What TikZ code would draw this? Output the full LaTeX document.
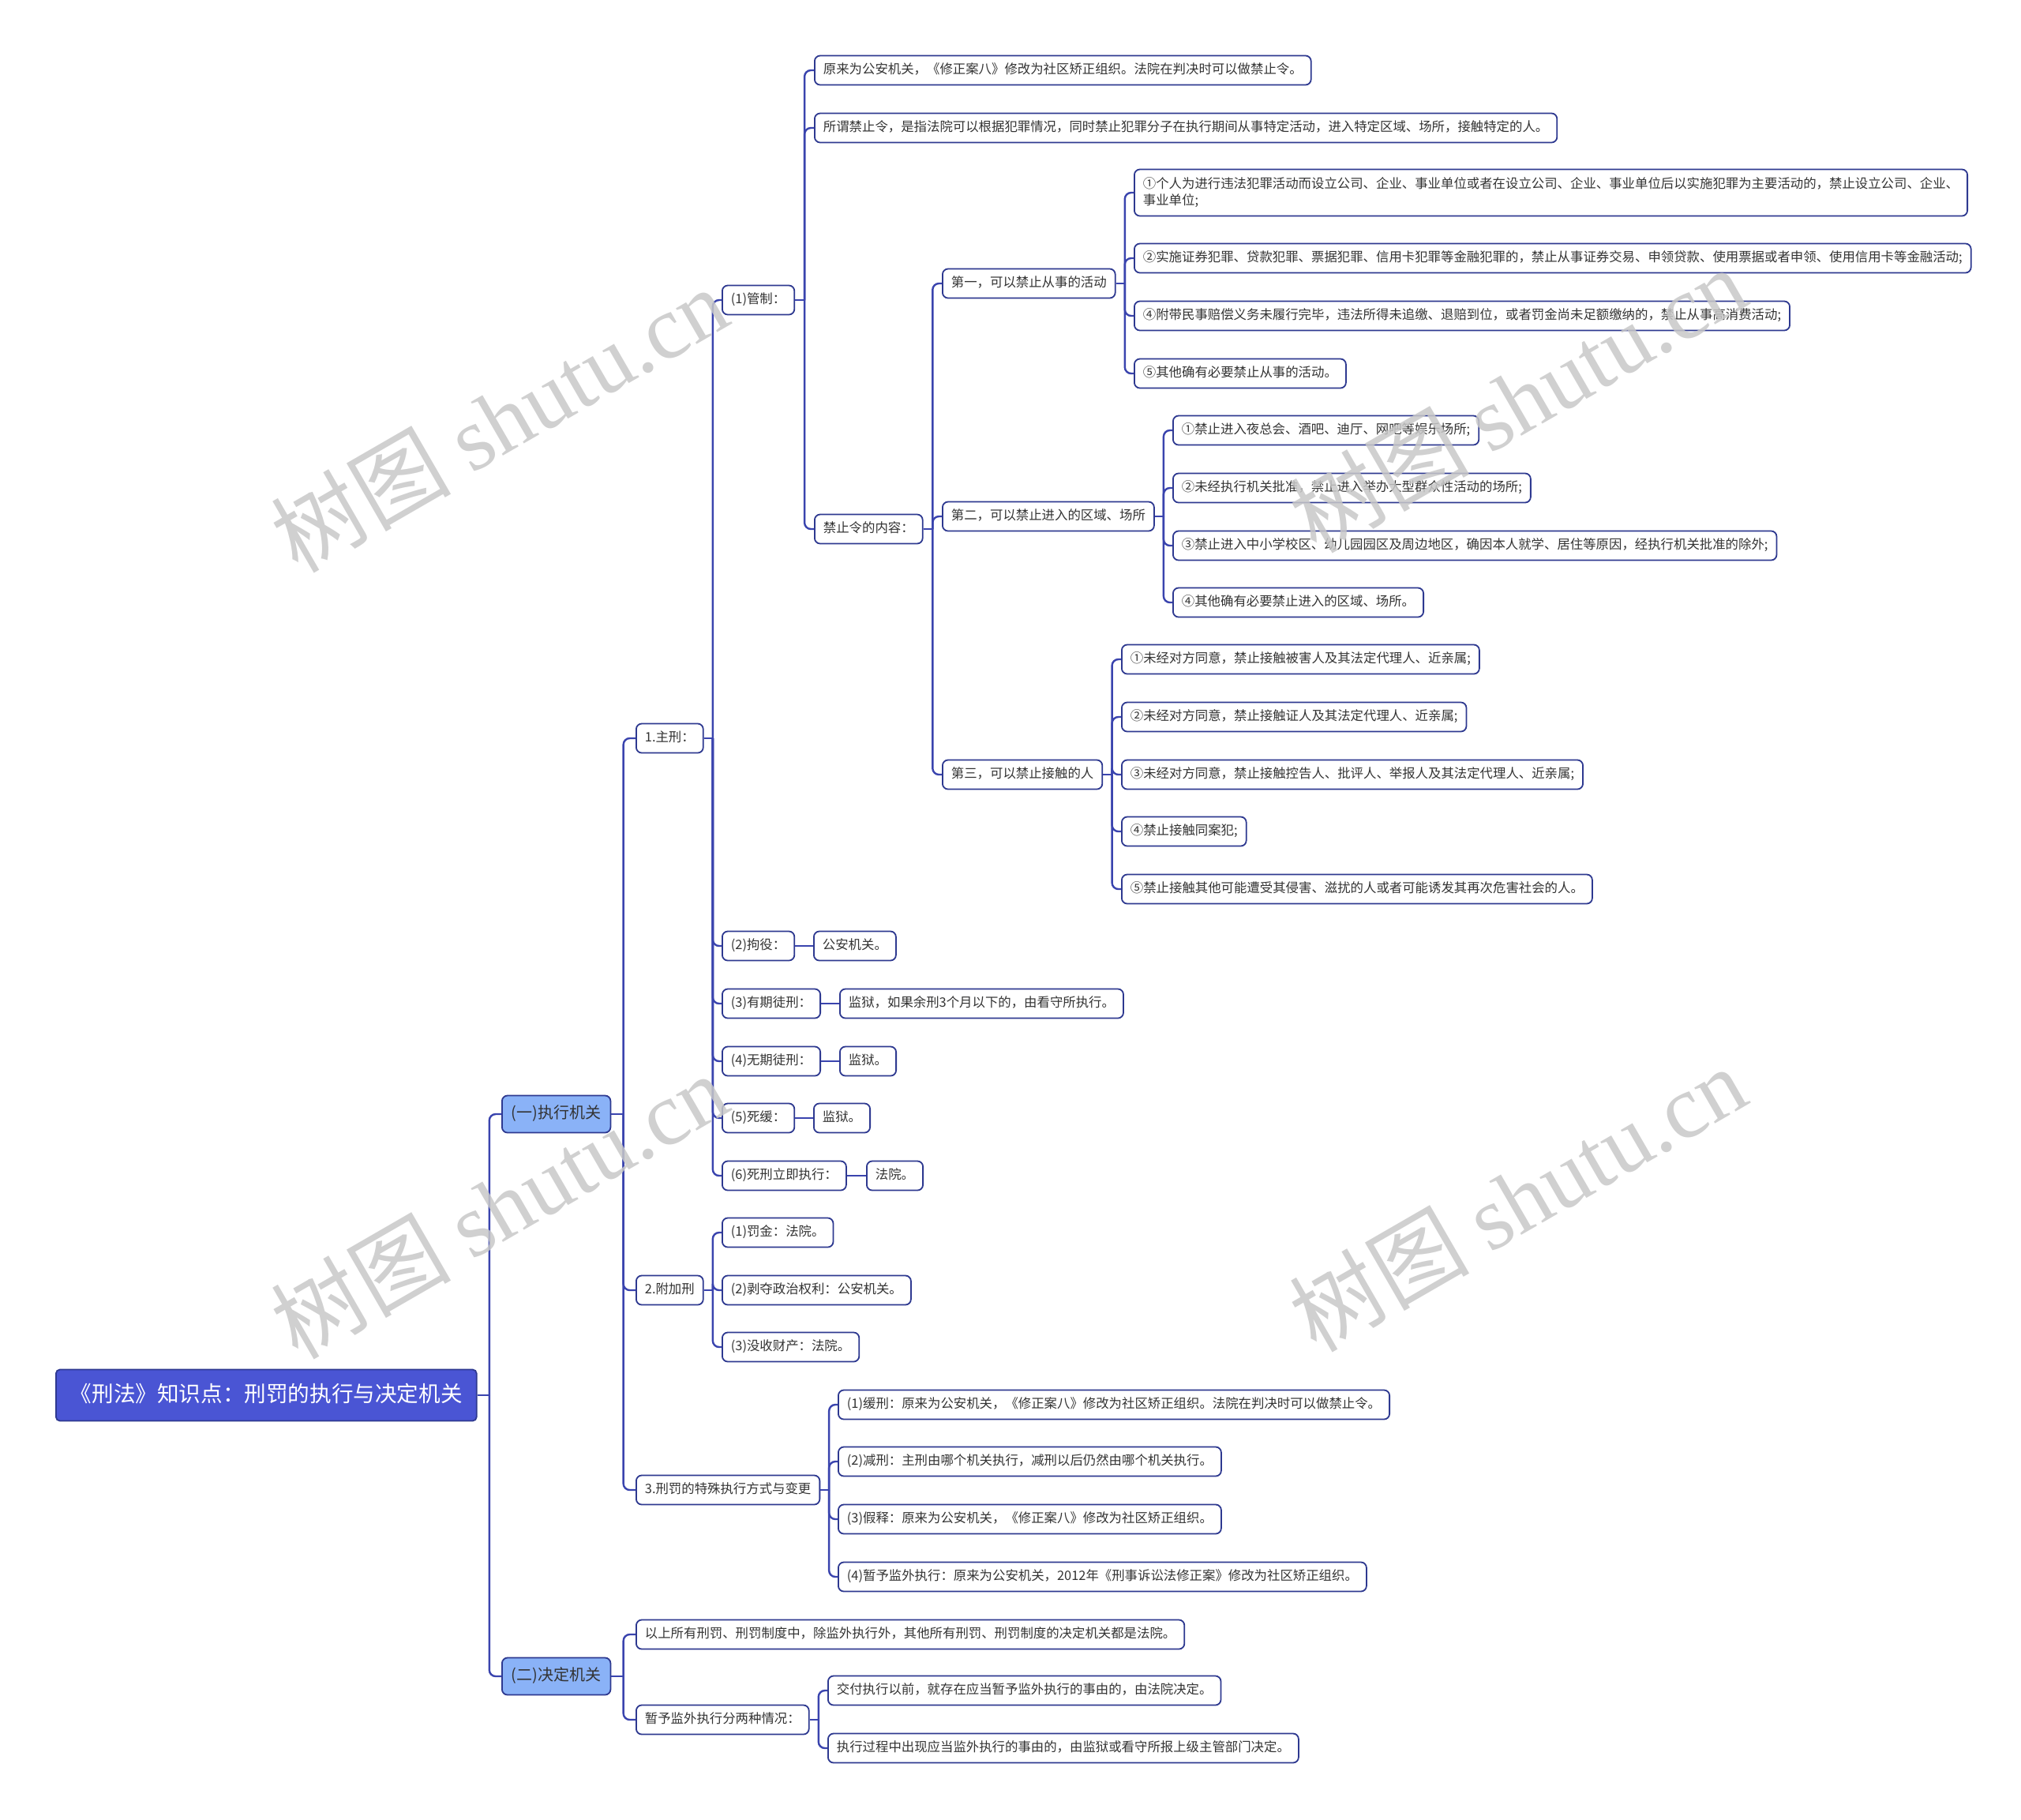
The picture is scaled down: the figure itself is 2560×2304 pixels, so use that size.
\documentclass[tikz,border=0pt]{standalone}
\usepackage{fontspec}
\setmainfont{Noto Sans CJK SC}
\newfontfamily\wmserif{Liberation Serif}
\usetikzlibrary{calc}
\definecolor{textcol}{HTML}{333333}
\definecolor{nodeborder}{HTML}{2E3990}
\definecolor{linkblue}{HTML}{3A44AE}
\definecolor{rootblue}{HTML}{4A55D4}
\definecolor{lightblue}{HTML}{8AB2F7}
\definecolor{wmgray}{HTML}{C8C8C8}
\tikzset{
  box/.style={draw=nodeborder, line width=0.9pt, rounded corners=3.5pt, fill=white,
    font=\fontsize{8.2}{10.5}\selectfont, text=textcol, inner xsep=5.5pt, inner ysep=0pt,
    minimum height=18.5pt, anchor=west, text height=6.6pt, text depth=1.8pt},
  rootbox/.style={box, fill=rootblue, text=white, font=\fontsize{13.8}{16}\selectfont,
    minimum height=32.5pt, inner xsep=9pt, rounded corners=2.5pt, text height=11pt, text depth=3pt},
  lonebox/.style={box, fill=lightblue, font=\fontsize{10}{12}\selectfont,
    minimum height=23.5pt, inner xsep=6pt, text height=8pt, text depth=2.2pt},
  link/.style={draw=linkblue, line width=1.2pt},
  wm/.style={text=wmgray, opacity=0.85, rotate=30, font=\fontsize{57}{57}\selectfont},
}
\newcommand{\linkto}[2]{%
  \draw[link] let \p1=(#1.east), \p2=(#2.west) in (\p1) -- ({0.5*\x1+0.5*\x2},\y1);
  \draw[link, rounded corners=4pt] let \p1=(#1.east), \p2=(#2.west) in ({0.5*\x1+0.5*\x2},\y1) |- (\p2);
}
\newcommand{\linkstraight}[2]{\draw[link] (#1.east) -- (#2.west);}
\begin{document}
\begin{tikzpicture}[x=0.5pt, y=-0.5pt]
\useasboundingbox (0,0) rectangle (2560,2304);
\fill[white] (0,0) rectangle (2560,2304);

% root and first level
\node[rootbox] (root) at (70,1767) {《刑法》知识点：刑罚的执行与决定机关};
\node[lonebox] (n1) at (635,1411) {(一)执行机关};
\node[lonebox] (n2) at (635,2123) {(二)决定机关};

% second level
\node[box] (a1) at (805,935) {1.主刑：};
\node[box] (a2) at (805,1634) {2.附加刑};
\node[box] (a3) at (805,1887) {3.刑罚的特殊执行方式与变更};
\node[box] (b1) at (805,2070) {以上所有刑罚、刑罚制度中，除监外执行外，其他所有刑罚、刑罚制度的决定机关都是法院。};
\node[box] (b2) at (805,2178) {暂予监外执行分两种情况：};
\node[box] (b21) at (1048,2141) {交付执行以前，就存在应当暂予监外执行的事由的，由法院决定。};
\node[box] (b22) at (1048,2214) {执行过程中出现应当监外执行的事由的，由监狱或看守所报上级主管部门决定。};

% under 1.主刑
\node[box] (a11) at (914,380) {(1)管制：};
\node[box] (a12) at (914,1198) {(2)拘役：};
\node[box] (a12c) at (1030,1198) {公安机关。};
\node[box] (a13) at (914,1271) {(3)有期徒刑：};
\node[box] (a13c) at (1063,1271) {监狱，如果余刑3个月以下的，由看守所执行。};
\node[box] (a14) at (914,1344) {(4)无期徒刑：};
\node[box] (a14c) at (1063,1344) {监狱。};
\node[box] (a15) at (914,1416) {(5)死缓：};
\node[box] (a15c) at (1030,1416) {监狱。};
\node[box] (a16) at (914,1489) {(6)死刑立即执行：};
\node[box] (a16c) at (1097,1489) {法院。};

% under 2.附加刑
\node[box] (a21) at (914,1561) {(1)罚金：法院。};
\node[box] (a22) at (914,1634) {(2)剥夺政治权利：公安机关。};
\node[box] (a23) at (914,1706) {(3)没收财产：法院。};

% under 3.
\node[box] (a31) at (1061,1779) {(1)缓刑：原来为公安机关，《修正案八》修改为社区矫正组织。法院在判决时可以做禁止令。};
\node[box] (a32) at (1061,1851) {(2)减刑：主刑由哪个机关执行，减刑以后仍然由哪个机关执行。};
\node[box] (a33) at (1061,1924) {(3)假释：原来为公安机关，《修正案八》修改为社区矫正组织。};
\node[box] (a34) at (1061,1997) {(4)暂予监外执行：原来为公安机关，2012年《刑事诉讼法修正案》修改为社区矫正组织。};

% under (1)管制
\node[box] (g1) at (1031,89) {原来为公安机关，《修正案八》修改为社区矫正组织。法院在判决时可以做禁止令。};
\node[box] (g2) at (1031,162) {所谓禁止令，是指法院可以根据犯罪情况，同时禁止犯罪分子在执行期间从事特定活动，进入特定区域、场所，接触特定的人。};
\node[box] (g3) at (1031,670) {禁止令的内容：};

\node[box] (h1) at (1193,359) {第一，可以禁止从事的活动};
\node[box] (h2) at (1193,654) {第二，可以禁止进入的区域、场所};
\node[box] (h3) at (1193,981) {第三，可以禁止接触的人};

\node[box, align=left, text height=, text depth=, minimum height=29.5pt, inner ysep=3pt] (i1) at (1436,244) {①个人为进行违法犯罪活动而设立公司、企业、事业单位或者在设立公司、企业、事业单位后以实施犯罪为主要活动的，禁止设立公司、企业、\\事业单位;};
\node[box] (i2) at (1436,327) {②实施证券犯罪、贷款犯罪、票据犯罪、信用卡犯罪等金融犯罪的，禁止从事证券交易、申领贷款、使用票据或者申领、使用信用卡等金融活动;};
\node[box] (i3) at (1436,400) {④附带民事赔偿义务未履行完毕，违法所得未追缴、退赔到位，或者罚金尚未足额缴纳的，禁止从事高消费活动;};
\node[box] (i4) at (1436,473) {⑤其他确有必要禁止从事的活动。};

\node[box] (j1) at (1485,545) {①禁止进入夜总会、酒吧、迪厅、网吧等娱乐场所;};
\node[box] (j2) at (1485,618) {②未经执行机关批准，禁止进入举办大型群众性活动的场所;};
\node[box] (j3) at (1485,691) {③禁止进入中小学校区、幼儿园园区及周边地区，确因本人就学、居住等原因，经执行机关批准的除外;};
\node[box] (j4) at (1485,763) {④其他确有必要禁止进入的区域、场所。};

\node[box] (k1) at (1420,835) {①未经对方同意，禁止接触被害人及其法定代理人、近亲属;};
\node[box] (k2) at (1420,908) {②未经对方同意，禁止接触证人及其法定代理人、近亲属;};
\node[box] (k3) at (1420,981) {③未经对方同意，禁止接触控告人、批评人、举报人及其法定代理人、近亲属;};
\node[box] (k4) at (1420,1053) {④禁止接触同案犯;};
\node[box] (k5) at (1420,1126) {⑤禁止接触其他可能遭受其侵害、滋扰的人或者可能诱发其再次危害社会的人。};

% connectors
\linkto{root}{n1}\linkto{root}{n2}
\linkto{n1}{a1}\linkto{n1}{a2}\linkto{n1}{a3}
\linkto{n2}{b1}\linkto{n2}{b2}
\linkto{b2}{b21}\linkto{b2}{b22}
\linkto{a1}{a11}\linkto{a1}{a12}\linkto{a1}{a13}\linkto{a1}{a14}\linkto{a1}{a15}\linkto{a1}{a16}
\linkstraight{a12}{a12c}\linkstraight{a13}{a13c}\linkstraight{a14}{a14c}\linkstraight{a15}{a15c}\linkstraight{a16}{a16c}
\linkto{a2}{a21}\linkto{a2}{a22}\linkto{a2}{a23}
\linkto{a3}{a31}\linkto{a3}{a32}\linkto{a3}{a33}\linkto{a3}{a34}
\linkto{a11}{g1}\linkto{a11}{g2}\linkto{a11}{g3}
\linkto{g3}{h1}\linkto{g3}{h2}\linkto{g3}{h3}
\linkto{h1}{i1}\linkto{h1}{i2}\linkto{h1}{i3}\linkto{h1}{i4}
\linkto{h2}{j1}\linkto{h2}{j2}\linkto{h2}{j3}\linkto{h2}{j4}
\linkto{h3}{k1}\linkto{h3}{k2}\linkto{h3}{k3}\linkto{h3}{k4}\linkto{h3}{k5}

% watermarks
\node[wm] (wm1) at (632,531) {树图 {\wmserif shutu.cn}};
\node[wm] (wm2) at (1922,506) {树图 {\wmserif shutu.cn}};
\node[wm] (wm3) at (632,1527) {树图 {\wmserif shutu.cn}};
\node[wm] (wm4) at (1922,1518) {树图 {\wmserif shutu.cn}};
\end{tikzpicture}
\end{document}
